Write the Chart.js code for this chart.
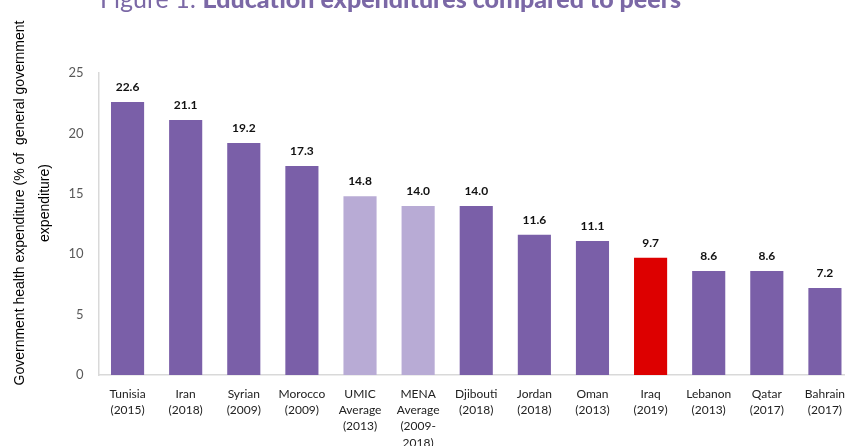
<!DOCTYPE html>
<html>
<head>
<meta charset="utf-8">
<script src="https://cdn.jsdelivr.net/npm/chart.js@4.4.1/dist/chart.umd.min.js"></script>
<style>
  html, body { margin: 0; padding: 0; background: #fff; overflow: hidden; }
  #wrap { position: relative; width: 856px; height: 446px; }
  #fig-title {
    position: absolute; left: 100px; top: -14px; white-space: nowrap;
    font: 25px Lato, sans-serif; line-height: 1; color: #7b68a6;
  }
  #fig-title b { font-weight: 900; }
</style>
</head>
<body>
<div id="wrap">
  <div id="fig-title">Figure 1: <b>Education expenditures compared to peers</b></div>
  <canvas id="myChart" width="856" height="446"></canvas>
</div>
<script>
const countries = ['Tunisia', 'Iran', 'Syrian', 'Morocco', 'UMIC', 'MENA', 'Djibouti', 'Jordan', 'Oman', 'Iraq', 'Lebanon', 'Qatar', 'Bahrain'];
const years = [['(2015)'], ['(2018)'], ['(2009)'], ['(2009)'], ['Average', '(2013)'], ['Average', '(2009-', '2018)'],
  ['(2018)'], ['(2018)'], ['(2013)'], ['(2019)'], ['(2013)'], ['(2017)'], ['(2017)']];
const healthShare = [22.6, 21.1, 19.2, 17.3, 14.8, 14.0, 14.0, 11.6, 11.1, 9.7, 8.6, 8.6, 7.2];
const yTicks = [0, 5, 10, 15, 20, 25];

const PURPLE = '#7a5fa8';
const LIGHT = '#b8abd5';
const RED = '#dd0000';

const barColors = countries.map(c => {
    if (c === 'Iraq') return RED;
    if (c === 'UMIC' || c === 'MENA') return LIGHT;
    return PURPLE;
});

// value on top of each bar
const valueLabels = {
    id: 'valueLabels',
    afterDatasetsDraw(chart) {
        const ctx = chart.ctx;
        const meta = chart.getDatasetMeta(0);
        ctx.save();
        ctx.font = 'bold 12px Lato, sans-serif';
        ctx.fillStyle = '#111';
        ctx.textAlign = 'center';
        ctx.textBaseline = 'middle';
        meta.data.forEach((bar, i) => {
            ctx.fillText(healthShare[i].toFixed(1), bar.x, bar.y - 15);
        });
        ctx.restore();
    }
};

// two-line rotated y axis title
const yTitle = {
    id: 'yTitle',
    afterDraw(chart) {
        const ctx = chart.ctx;
        ctx.save();
        ctx.font = '14px "Liberation Sans", Arial, sans-serif';
        ctx.fillStyle = '#000';
        ctx.textAlign = 'center';
        ctx.textBaseline = 'middle';
        ctx.translate(20, 203);
        ctx.rotate(-Math.PI / 2);
        ctx.fillText('Government health expenditure (% of  general government', 0, 0);
        ctx.fillText('expenditure)', 0, 25);
        ctx.restore();
    }
};

const ctx = document.getElementById('myChart').getContext('2d');
const myChart = new Chart(ctx, {
    type: 'bar',
    data: {
        labels: countries.map((c, i) => [c].concat(years[i])),
        datasets: [{
            data: healthShare,
            backgroundColor: barColors,
            barPercentage: 0.57,
            categoryPercentage: 1
        }]
    },
    options: {
        responsive: false,
        animation: false,
        layout: { padding: { top: 73, left: 0, right: 0, bottom: 0 } },
        plugins: { legend: { display: false }, tooltip: { enabled: false } },
        scales: {
            x: {
                grid: { display: false, drawTicks: false },
                border: { color: '#d9d9d9', width: 1.5 },
                ticks: {
                    color: '#222',
                    font: { family: 'Lato, sans-serif', size: 12, lineHeight: 1.35 },
                    padding: 11,
                    maxRotation: 0,
                    autoSkip: false
                },
                afterFit(scale) { scale.height = 71; }
            },
            y: {
                min: 0,
                max: 25,
                afterBuildTicks(scale) { scale.ticks = yTicks.map(v => ({ value: v })); },
                grid: { display: false, drawTicks: false },
                border: { color: '#d9d9d9', width: 1.5 },
                ticks: {
                    color: '#595959',
                    font: { family: 'Lato, sans-serif', size: 13 },
                    padding: 15
                },
                afterFit(scale) { scale.width = 98.5; }
            }
        }
    },
    plugins: [valueLabels, yTitle]
});
</script>
</body>
</html>
